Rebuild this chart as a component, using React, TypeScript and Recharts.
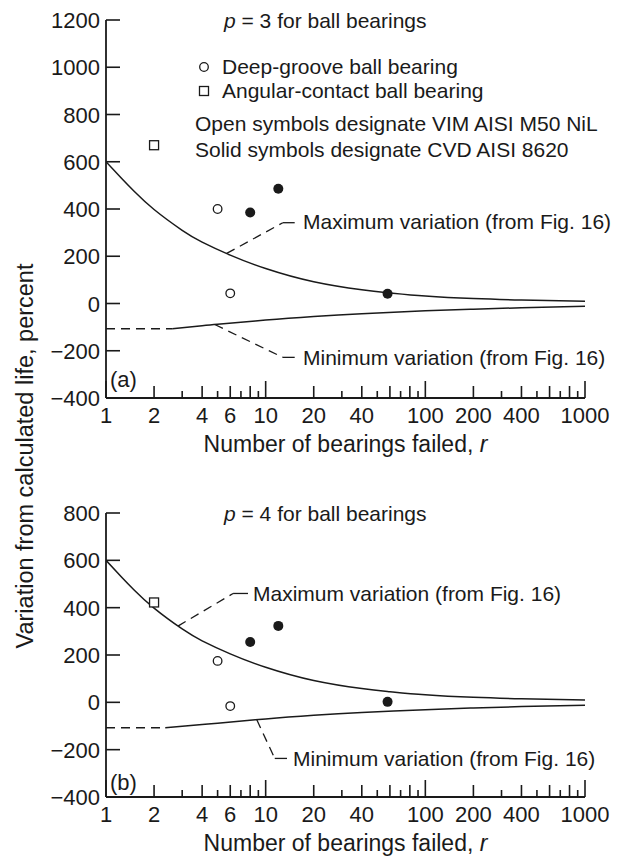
import { ComposedChart, Line, Scatter, XAxis, YAxis } from 'recharts'

const W = 628
const H = 856
const INK = '#1a1a1a'
const FONT = '"Liberation Sans", Arial, Helvetica, sans-serif'

// log axis: number of bearings failed
const xTicks = [1, 2, 3, 4, 5, 6, 7, 8, 9, 10, 20, 30, 40, 50, 60, 70, 80, 90, 100, 200, 300, 400, 500, 600, 700, 800, 900, 1000]
const xLabels = [1, 2, 4, 6, 10, 20, 40, 100, 200, 400, 1000]
const yTicksA = [-400, -200, 0, 200, 400, 600, 800, 1000, 1200]
const yTicksB = [-400, -200, 0, 200, 400, 600, 800]

// maximum / minimum variation curves (from Fig. 16)
const maxR = [1, 1.25, 1.5, 2, 3, 4, 6, 10, 20, 40, 60, 100, 200, 400, 1000]
const maxV = [600, 530, 475, 398, 310, 260, 205, 148, 92, 58, 45, 32, 21, 15, 10]
const minRA = [2.6, 4, 5, 10, 20, 40, 100, 200, 400, 1000]
const minRB = [2.35, 4, 5, 10, 20, 40, 100, 200, 400, 1000]
const minV = [-107, -94, -88, -70, -55, -43, -31, -24, -18, -12]
const minDashRA = [1, 2.6]
const minDashRB = [1, 2.35]
const minDashV = [-107, -107]

// (a) p = 3
const openRA = [5, 6]
const openVA = [400, 43]
const solidRA = [8, 12, 58]
const solidVA = [385, 486, 41]
const squareRA = [2]
const squareVA = [670]

// (b) p = 4
const openRB = [5, 6]
const openVB = [175, -16]
const solidRB = [8, 12, 58]
const solidVB = [255, 323, 2]
const squareRB = [2]
const squareVB = [422]

// leader lines to the curve labels
const maxLeadRA = [5.7, 12.8]
const maxLeadVA = [212, 342]
const maxTailRA = [12.8, 15.2]
const maxTailVA = [342, 342]
const minLeadRA = [4.8, 12.8]
const minLeadVA = [-89, -228]
const minTailRA = [12.8, 15.2]
const minTailVA = [-228, -228]

const maxLeadRB = [2.82, 6.25]
const maxLeadVB = [322, 460]
const maxTailRB = [6.25, 7.75]
const maxTailVB = [460, 460]
const minLeadRB = [8.8, 11.4]
const minLeadVB = [-74, -237]
const minTailRB = [11.4, 13.6]
const minTailVB = [-237, -237]

const pts = (rs: number[], vs: number[]) => rs.map((r, i) => ({ r, v: vs[i] }))

const XTick = (props: any) => {
  const { x, y, payload } = props
  const v = payload.value as number
  const lead = Math.round(v / Math.pow(10, Math.floor(Math.log10(v) + 1e-9)))
  const len = lead === 1 ? 17 : lead % 2 === 0 ? 12 : 7
  return (
    <g>
      <line x1={x} x2={x} y1={y} y2={y - len} stroke={INK} strokeWidth={1.6} />
      {xLabels.includes(v) && (
        <text x={x} y={y + 25} textAnchor="middle" fontSize={22} fill={INK} fontFamily={FONT}>
          {v}
        </text>
      )}
    </g>
  )
}

const YTick = (props: any) => {
  const { x, y, payload } = props
  const v = payload.value as number
  return (
    <g>
      <line x1={x} x2={x + 14} y1={y} y2={y} stroke={INK} strokeWidth={1.6} />
      <text x={x - 6} y={y + 8} textAnchor="end" fontSize={22} fill={INK} fontFamily={FONT}>
        {v < 0 ? `\u2212${Math.abs(v)}` : v}
      </text>
    </g>
  )
}

const openCircle = (p: any) => <circle cx={p.cx} cy={p.cy} r={4.3} fill="#fff" stroke={INK} strokeWidth={1.3} />
const solidCircle = (p: any) => <circle cx={p.cx} cy={p.cy} r={5} fill={INK} />
const openSquare = (p: any) => (
  <rect x={p.cx - 4.5} y={p.cy - 4.5} width={9} height={9} fill="#fff" stroke={INK} strokeWidth={1.3} />
)

interface PanelProps {
  top: number
  bottom: number
  yMax: number
  yTicks: number[]
  minR: number[]
  minDashR: number[]
  open: { r: number; v: number }[]
  solid: { r: number; v: number }[]
  square: { r: number; v: number }[]
  leaders: { r: number; v: number }[][]
  tails: { r: number; v: number }[][]
}

function Panel({ top, bottom, yMax, yTicks, minR, minDashR, open, solid, square, leaders, tails }: PanelProps) {
  return (
    <div style={{ position: 'absolute', left: 0, top: 0 }}>
      <ComposedChart width={W} height={H} margin={{ top, right: 43, bottom: H - bottom - 30, left: 46 }}>
        <XAxis
          type="number"
          dataKey="r"
          scale="log"
          domain={[1, 1000]}
          ticks={xTicks}
          interval={0}
          allowDataOverflow
          height={30}
          tickSize={0}
          tickMargin={0}
          tickLine={false}
          tick={<XTick />}
          axisLine={{ stroke: INK, strokeWidth: 1.8 }}
        />
        <YAxis
          type="number"
          dataKey="v"
          domain={[-400, yMax]}
          ticks={yTicks}
          interval={0}
          allowDataOverflow
          width={60}
          tickSize={0}
          tickMargin={0}
          tickLine={false}
          tick={<YTick />}
          axisLine={{ stroke: INK, strokeWidth: 1.8 }}
        />
        <Line data={pts(maxR, maxV)} dataKey="v" type="natural" stroke={INK} strokeWidth={1.5} dot={false} isAnimationActive={false} />
        <Line data={pts(minR, minV)} dataKey="v" type="natural" stroke={INK} strokeWidth={1.5} dot={false} isAnimationActive={false} />
        <Line data={pts(minDashR, minDashV)} dataKey="v" type="linear" stroke={INK} strokeWidth={1.5} strokeDasharray="9 6" dot={false} isAnimationActive={false} />
        {leaders.map((d, i) => (
          <Line key={`l${i}`} data={d} dataKey="v" type="linear" stroke={INK} strokeWidth={1.3} strokeDasharray="9 6" dot={false} isAnimationActive={false} />
        ))}
        {tails.map((d, i) => (
          <Line key={`t${i}`} data={d} dataKey="v" type="linear" stroke={INK} strokeWidth={1.3} dot={false} isAnimationActive={false} />
        ))}
        <Scatter data={open} dataKey="v" shape={openCircle} isAnimationActive={false} />
        <Scatter data={solid} dataKey="v" shape={solidCircle} isAnimationActive={false} />
        <Scatter data={square} dataKey="v" shape={openSquare} isAnimationActive={false} />
      </ComposedChart>
    </div>
  )
}

export default function App() {
  const t = { fill: INK, fontFamily: FONT }
  return (
    <div style={{ position: 'absolute', left: 0, top: 0, width: W, height: H, background: '#fff' }}>
      <Panel
        top={20}
        bottom={398}
        yMax={1200}
        yTicks={yTicksA}
        minR={minRA}
        minDashR={minDashRA}
        open={pts(openRA, openVA)}
        solid={pts(solidRA, solidVA)}
        square={pts(squareRA, squareVA)}
        leaders={[pts(maxLeadRA, maxLeadVA), pts(minLeadRA, minLeadVA)]}
        tails={[pts(maxTailRA, maxTailVA), pts(minTailRA, minTailVA)]}
      />
      <Panel
        top={513}
        bottom={797}
        yMax={800}
        yTicks={yTicksB}
        minR={minRB}
        minDashR={minDashRB}
        open={pts(openRB, openVB)}
        solid={pts(solidRB, solidVB)}
        square={pts(squareRB, squareVB)}
        leaders={[pts(maxLeadRB, maxLeadVB), pts(minLeadRB, minLeadVB)]}
        tails={[pts(maxTailRB, maxTailVB), pts(minTailRB, minTailVB)]}
      />
      <svg width={W} height={H} style={{ position: 'absolute', left: 0, top: 0, pointerEvents: 'none' }}>
        <text x={33} y={456} transform="rotate(-90 33 456)" textAnchor="middle" fontSize={23.5} {...t}>
          Variation from calculated life, percent
        </text>
        <text x={345.5} y={452} textAnchor="middle" fontSize={23} {...t}>
          Number of bearings failed, <tspan fontStyle="italic">r</tspan>
        </text>
        <text x={345.5} y={851} textAnchor="middle" fontSize={23} {...t}>
          Number of bearings failed, <tspan fontStyle="italic">r</tspan>
        </text>

        <text x={224} y={28} fontSize={21} {...t}>
          <tspan fontStyle="italic">p</tspan> = 3 for ball bearings
        </text>
        <circle cx={204} cy={67} r={4.3} fill="#fff" stroke={INK} strokeWidth={1.3} />
        <text x={222} y={74} fontSize={21} {...t}>Deep-groove ball bearing</text>
        <rect x={199.5} y={86.5} width={9} height={9} fill="#fff" stroke={INK} strokeWidth={1.3} />
        <text x={222} y={98} fontSize={21} {...t}>Angular-contact ball bearing</text>
        <text x={195} y={131} fontSize={21} {...t}>Open symbols designate VIM AISI M50 NiL</text>
        <text x={195} y={157} fontSize={21} {...t}>Solid symbols designate CVD AISI 8620</text>
        <text x={303} y={229} fontSize={21} {...t}>Maximum variation (from Fig. 16)</text>
        <text x={303} y={365} fontSize={21} {...t}>Minimum variation (from Fig. 16)</text>
        <text x={110} y={387} fontSize={22} {...t}>(a)</text>

        <text x={224} y={521} fontSize={21} {...t}>
          <tspan fontStyle="italic">p</tspan> = 4 for ball bearings
        </text>
        <text x={253} y={601} fontSize={21} {...t}>Maximum variation (from Fig. 16)</text>
        <text x={293} y={766} fontSize={21} {...t}>Minimum variation (from Fig. 16)</text>
        <text x={110} y={790} fontSize={22} {...t}>(b)</text>
      </svg>
    </div>
  )
}
